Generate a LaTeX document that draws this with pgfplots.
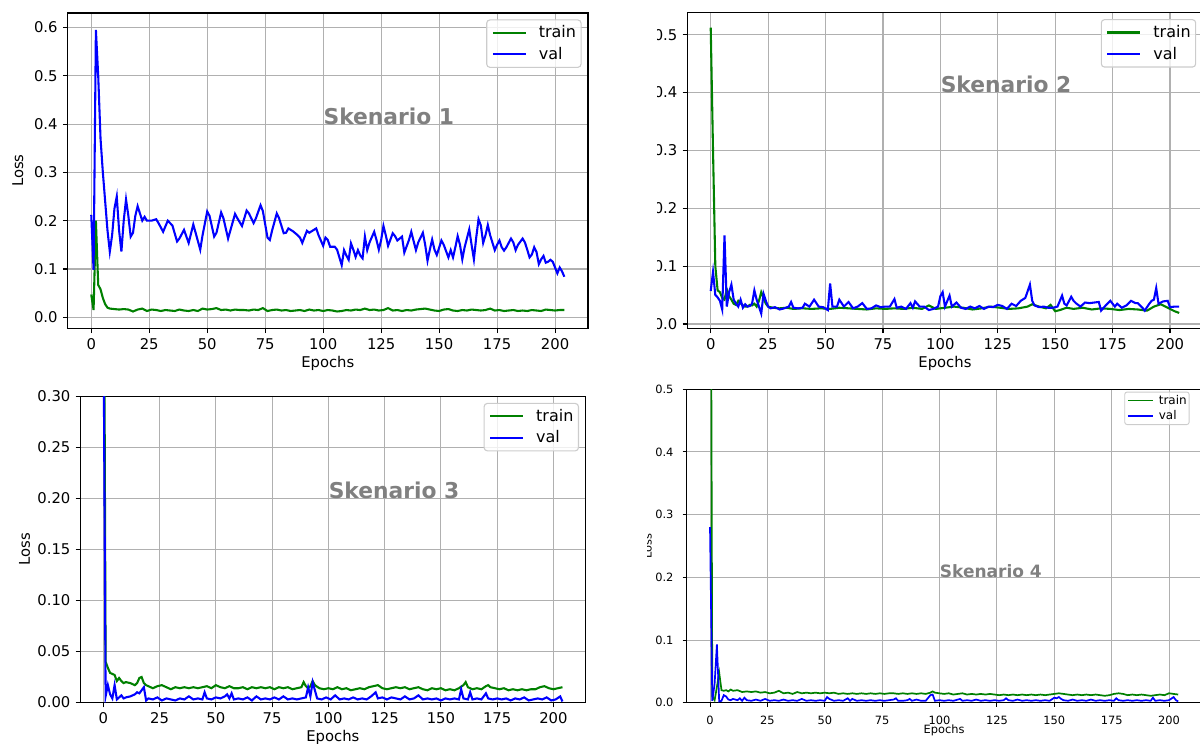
\documentclass[border=0pt]{standalone}
\usepackage{fontspec}
\setmainfont{DejaVu Sans}
\usepackage{pgfplots}
\pgfplotsset{compat=1.18}
\definecolor{mgreen}{HTML}{008000}
\definecolor{mblue}{HTML}{0000FF}
\definecolor{gridc}{HTML}{B0B0B0}
\definecolor{legc}{HTML}{CCCCCC}
\definecolor{skc}{HTML}{808080}
\newcommand{\fa}{\fontsize{7.4}{8.8}\selectfont}
\newcommand{\fl}{\fontsize{8}{9.6}\selectfont}
\newcommand{\fb}{\fontsize{5.7}{6.8}\selectfont}

\pgfplotsset{
  mpl/.style={
    scale only axis, anchor=south west,
    xmin=-10.2, xmax=214.2,
    xtick={0,25,...,200},
    grid=major,
    major grid style={line width=0.55pt, draw=gridc},
    axis line style={line width=0.55pt},
    tick align=outside, tick pos=left,
    major tick length=2.4pt,
    every tick/.style={black, line width=0.55pt},
    /pgf/number format/assume math mode=true,
    tick label style={font=\fa, inner sep=0pt},
    xticklabel style={yshift=-2.4pt},
    yticklabel style={xshift=-2.4pt, /pgf/number format/fixed, /pgf/number format/fixed zerofill, /pgf/number format/precision=1},
    label style={font=\fa, inner sep=0pt},
    xlabel={Epochs}, xlabel style={yshift=-3pt},
    legend cell align=left,
    legend image code/.code={\draw[##1, line width=1.04pt] (0pt,0pt) -- (16.5pt,0pt);},
    legend style={at={(1,1)}, anchor=north east, xshift=-3.2pt, yshift=-3.2pt,
      draw=legc, line width=0.55pt, rounded corners=1.6pt, fill=white,
      fill opacity=0.8, text opacity=1, font=\fl,
      inner xsep=2.5pt, inner ysep=2.95pt, row sep=3.8pt, column sep=6pt,
      nodes={inner sep=0pt, text height=6pt, text depth=1pt}},
  },
  p4/.style={
    major grid style={line width=0.45pt, draw=gridc},
    axis line style={line width=0.45pt},
    major tick length=2pt,
    every tick/.style={black, line width=0.45pt},
    tick label style={font=\fb}, label style={font=\fb},
    xticklabel style={yshift=-2pt}, yticklabel style={xshift=-2pt},
    xlabel style={yshift=3.2pt}, ylabel style={yshift=1.6pt},
    legend image code/.code={\draw[##1, line width=0.85pt] (0pt,0pt) -- (12.5pt,0pt);},
    legend style={font=\fontsize{6}{7}\selectfont, xshift=-2.8pt, yshift=2pt,
      inner xsep=1.2pt, inner ysep=1.6pt, row sep=2.55pt, column sep=2.5pt,
      line width=0.45pt, rounded corners=1.2pt,
      nodes={inner sep=0pt, text height=4.5pt, text depth=0.75pt}},
  },
  tr/.style={mgreen, line width=1.04pt},
  vl/.style={mblue, line width=1.04pt},
}
\tikzset{sk/.style={anchor=base west, text=skc, font=\fontsize{10.9}{12}\selectfont\bfseries, inner sep=0pt}}

\begin{document}
\begin{tikzpicture}[x=1pt,y=1pt]
\useasboundingbox (0,0) rectangle (600,372);
\clip (0,0) rectangle (600,372);

% Skenario 1
\begin{axis}[mpl, at={(33.8pt,207.85pt)}, width=260.2pt, height=157.65pt,
  ymin=-0.0228, ymax=0.630, ytick={0,0.1,...,0.6}, ylabel={Loss},
  ylabel style={yshift=5.2pt}]
\addplot[tr] coordinates {(0,0.047)(1,0.015)(2,0.200)(3,0.067)(4,0.058)(5,0.040)(6,0.027)(7,0.020)(8,0.018)(10,0.017)(12,0.016)(14,0.017)(16,0.016)(18,0.012)(20,0.016)(22,0.018)(24,0.013)(26,0.016)(28,0.015)(30,0.013)(32,0.015)(34,0.014)(36,0.013)(38,0.016)(40,0.014)(42,0.013)(44,0.015)(46,0.013)(48,0.018)(50,0.016)(52,0.017)(54,0.019)(56,0.015)(58,0.016)(60,0.014)(62,0.016)(64,0.015)(66,0.015)(68,0.014)(70,0.016)(72,0.015)(74,0.019)(76,0.013)(78,0.015)(80,0.016)(82,0.014)(84,0.015)(86,0.013)(88,0.014)(90,0.015)(92,0.013)(94,0.016)(96,0.014)(98,0.015)(100,0.013)(102,0.015)(104,0.014)(106,0.012)(108,0.013)(110,0.015)(112,0.014)(114,0.016)(116,0.015)(118,0.018)(120,0.015)(122,0.016)(124,0.014)(126,0.015)(128,0.019)(130,0.014)(132,0.015)(134,0.013)(136,0.015)(138,0.014)(140,0.016)(142,0.017)(144,0.018)(146,0.016)(148,0.014)(150,0.013)(152,0.016)(154,0.017)(156,0.014)(158,0.013)(160,0.015)(162,0.014)(164,0.016)(166,0.015)(168,0.014)(170,0.015)(172,0.018)(174,0.014)(176,0.015)(178,0.013)(180,0.014)(182,0.015)(184,0.013)(186,0.014)(188,0.013)(190,0.015)(192,0.014)(194,0.013)(196,0.016)(198,0.015)(200,0.014)(202,0.015)(204,0.015)};
\addlegendentry{train}
\addplot[vl] coordinates {(0,0.212)(1,0.098)(2,0.595)(3,0.50)(4,0.37)(5,0.30)(6,0.24)(7,0.18)(8,0.136)(9,0.17)(10,0.225)(11,0.25)(12,0.18)(13,0.136)(14,0.20)(15,0.244)(16,0.21)(17,0.167)(18,0.175)(19,0.21)(20,0.23)(21,0.215)(22,0.20)(23,0.208)(24,0.20)(26,0.20)(28,0.203)(29,0.195)(31,0.177)(33,0.20)(35,0.19)(37,0.157)(38,0.163)(40,0.181)(42,0.154)(44,0.192)(45,0.175)(47,0.14)(48,0.17)(50,0.219)(51,0.21)(53,0.167)(54,0.175)(56,0.217)(57,0.205)(59,0.163)(60,0.18)(62,0.214)(63,0.205)(65,0.189)(67,0.221)(68,0.215)(70,0.195)(71,0.205)(73,0.232)(74,0.22)(76,0.165)(77,0.16)(78,0.18)(80,0.215)(81,0.205)(83,0.174)(84,0.175)(85,0.184)(87,0.178)(89,0.17)(90,0.165)(91,0.154)(93,0.179)(94,0.175)(95,0.178)(97,0.184)(98,0.17)(100,0.148)(101,0.165)(102,0.16)(103,0.146)(105,0.146)(106,0.14)(108,0.108)(109,0.139)(110,0.128)(111,0.119)(112,0.153)(113,0.14)(114,0.125)(115,0.139)(116,0.128)(117,0.122)(118,0.167)(119,0.139)(120,0.155)(122,0.177)(123,0.16)(124,0.14)(125,0.16)(126,0.189)(127,0.17)(128,0.148)(130,0.174)(131,0.168)(132,0.159)(134,0.167)(135,0.134)(137,0.16)(138,0.177)(140,0.139)(141,0.155)(143,0.175)(144,0.15)(145,0.117)(146,0.14)(147,0.161)(148,0.14)(149,0.129)(151,0.159)(152,0.15)(154,0.124)(155,0.139)(156,0.124)(157,0.145)(158,0.168)(159,0.15)(160,0.12)(161,0.145)(163,0.182)(164,0.15)(165,0.12)(166,0.165)(167,0.203)(168,0.19)(169,0.154)(170,0.17)(171,0.191)(172,0.17)(174,0.139)(175,0.15)(176,0.159)(177,0.145)(178,0.138)(179,0.145)(181,0.163)(182,0.155)(183,0.139)(184,0.15)(186,0.163)(187,0.155)(188,0.14)(189,0.124)(190,0.13)(191,0.145)(192,0.135)(193,0.11)(194,0.12)(195,0.127)(196,0.113)(197,0.115)(198,0.119)(199,0.115)(200,0.103)(201,0.091)(202,0.103)(203,0.095)(204,0.084)};
\addlegendentry{val}
\node[sk] at (axis cs:100,0.4) {Skenario 1};
\end{axis}

% Skenario 2
\begin{scope}
\clip (328.5,0) rectangle (600,372);
\begin{axis}[mpl, at={(343.65pt,207.85pt)}, width=257.65pt, height=157.8pt,
  ymin=-0.0075, ymax=0.538, ytick={0,0.1,...,0.5}]
\addplot[tr] coordinates {(0,0.512)(1,0.30)(2,0.10)(3,0.058)(4,0.055)(5,0.045)(6,0.042)(7,0.060)(8,0.048)(9,0.042)(10,0.035)(11,0.033)(12,0.040)(13,0.036)(14,0.032)(15,0.030)(16,0.030)(17,0.033)(18,0.032)(19,0.035)(20,0.030)(21,0.040)(22,0.055)(23,0.045)(24,0.035)(25,0.030)(27,0.028)(30,0.027)(33,0.028)(36,0.026)(40,0.027)(44,0.026)(48,0.027)(52,0.026)(56,0.028)(60,0.027)(64,0.026)(68,0.025)(72,0.027)(76,0.026)(80,0.027)(84,0.026)(88,0.028)(92,0.026)(95,0.032)(98,0.026)(102,0.028)(106,0.030)(110,0.028)(114,0.025)(118,0.027)(122,0.030)(126,0.028)(130,0.026)(134,0.027)(138,0.030)(140,0.034)(143,0.030)(146,0.027)(148,0.033)(150,0.022)(152,0.024)(155,0.028)(158,0.026)(162,0.028)(166,0.025)(170,0.027)(174,0.026)(178,0.024)(182,0.026)(186,0.025)(190,0.023)(193,0.030)(196,0.034)(199,0.028)(202,0.022)(204,0.019)};
\addlegendentry{train}
\addplot[vl] coordinates {(0,0.057)(1,0.090)(2,0.050)(3,0.046)(4,0.040)(5,0.025)(6,0.153)(7,0.030)(8,0.055)(9,0.068)(10,0.042)(11,0.035)(12,0.030)(13,0.042)(14,0.028)(15,0.034)(16,0.030)(17,0.031)(18,0.035)(19,0.058)(20,0.042)(21,0.030)(22,0.018)(23,0.052)(24,0.040)(25,0.030)(26,0.027)(28,0.029)(30,0.025)(32,0.027)(34,0.030)(35,0.038)(36,0.028)(38,0.027)(40,0.028)(41,0.035)(43,0.030)(45,0.042)(47,0.030)(49,0.029)(51,0.024)(52,0.070)(53,0.030)(55,0.030)(56,0.042)(58,0.030)(60,0.038)(62,0.027)(64,0.030)(66,0.036)(68,0.026)(70,0.027)(72,0.032)(74,0.029)(76,0.030)(78,0.030)(80,0.043)(81,0.028)(83,0.030)(85,0.026)(87,0.036)(88,0.028)(89,0.039)(91,0.030)(93,0.030)(95,0.024)(97,0.026)(99,0.030)(100,0.048)(101,0.055)(102,0.030)(104,0.049)(105,0.030)(107,0.037)(109,0.028)(111,0.026)(113,0.030)(115,0.027)(117,0.031)(119,0.026)(121,0.030)(123,0.029)(125,0.033)(127,0.031)(129,0.026)(131,0.035)(133,0.031)(135,0.040)(137,0.045)(139,0.068)(140,0.040)(141,0.032)(143,0.029)(145,0.030)(147,0.028)(149,0.028)(151,0.030)(153,0.049)(154,0.035)(155,0.032)(157,0.047)(158,0.040)(159,0.036)(161,0.030)(163,0.037)(165,0.036)(167,0.037)(169,0.038)(170,0.023)(172,0.032)(174,0.040)(176,0.030)(177,0.035)(179,0.028)(181,0.032)(183,0.040)(185,0.036)(186,0.036)(188,0.028)(189,0.023)(191,0.035)(192,0.040)(193,0.042)(194,0.062)(195,0.035)(197,0.039)(199,0.040)(200,0.029)(202,0.030)(204,0.030)};
\addlegendentry{val}
\node[sk] at (axis cs:100,0.4) {Skenario 2};
\end{axis}
\end{scope}

% Skenario 3
\begin{axis}[mpl, at={(40.2pt,20.75pt)}, width=252.5pt, height=153pt,
  ymin=0, ymax=0.3, ytick={0,0.05,...,0.3}, ylabel={Loss},
  ylabel style={yshift=3.5pt},
  yticklabel style={/pgf/number format/precision=2}]
\addplot[tr] coordinates {(0,0.60)(1,0.040)(2,0.034)(3,0.029)(4,0.028)(5,0.027)(6,0.021)(7,0.024)(8,0.021)(9,0.019)(10,0.020)(12,0.019)(14,0.017)(15,0.019)(16,0.024)(17,0.025)(18,0.019)(19,0.017)(20,0.016)(22,0.014)(24,0.016)(26,0.017)(28,0.015)(30,0.013)(32,0.015)(34,0.014)(36,0.015)(38,0.014)(40,0.015)(42,0.014)(44,0.015)(46,0.016)(48,0.014)(50,0.017)(52,0.015)(54,0.014)(56,0.016)(58,0.014)(60,0.014)(62,0.015)(64,0.013)(66,0.015)(68,0.014)(70,0.015)(72,0.014)(74,0.015)(76,0.013)(78,0.015)(80,0.014)(82,0.015)(84,0.013)(86,0.014)(88,0.015)(89,0.020)(90,0.016)(91,0.014)(92,0.016)(93,0.021)(94,0.017)(96,0.014)(98,0.013)(100,0.014)(102,0.013)(104,0.015)(106,0.013)(108,0.014)(110,0.012)(112,0.013)(114,0.014)(116,0.013)(118,0.015)(120,0.016)(122,0.017)(124,0.014)(126,0.013)(128,0.014)(130,0.015)(132,0.014)(134,0.015)(136,0.013)(138,0.014)(140,0.015)(142,0.013)(144,0.012)(146,0.014)(148,0.013)(150,0.014)(152,0.012)(154,0.013)(156,0.012)(158,0.014)(160,0.017)(161,0.020)(162,0.015)(164,0.013)(166,0.014)(168,0.013)(170,0.016)(171,0.017)(172,0.015)(174,0.014)(176,0.013)(178,0.014)(180,0.012)(182,0.013)(184,0.012)(186,0.013)(188,0.012)(190,0.013)(192,0.013)(194,0.015)(196,0.016)(198,0.014)(200,0.013)(202,0.014)(204,0.015)};
\addlegendentry{train}
\addplot[vl] coordinates {(0,0.40)(1,0.006)(2,0.017)(3,0.008)(4,0.004)(5,0.017)(6,0.003)(7,0.005)(8,0.007)(9,0.004)(10,0.005)(12,0.006)(14,0.008)(15,0.010)(16,0.009)(17,0.012)(18,0.015)(19,0.002)(20,0.004)(22,0.003)(24,0.005)(26,0.002)(28,0.004)(30,0.003)(32,0.002)(34,0.004)(36,0.003)(38,0.006)(40,0.003)(42,0.004)(44,0.003)(45,0.010)(46,0.004)(48,0.003)(50,0.005)(52,0.004)(54,0.006)(55,0.008)(56,0.004)(57,0.009)(58,0.003)(60,0.004)(62,0.003)(64,0.005)(66,0.002)(68,0.006)(70,0.003)(72,0.004)(74,0.003)(76,0.005)(78,0.003)(80,0.006)(82,0.003)(84,0.004)(86,0.003)(88,0.004)(90,0.005)(91,0.015)(92,0.006)(93,0.020)(94,0.012)(95,0.004)(97,0.003)(99,0.005)(101,0.003)(103,0.007)(105,0.003)(107,0.004)(109,0.003)(111,0.005)(113,0.003)(115,0.004)(117,0.003)(119,0.006)(121,0.010)(122,0.004)(124,0.005)(126,0.003)(128,0.005)(130,0.004)(132,0.003)(134,0.006)(136,0.003)(138,0.004)(140,0.007)(142,0.003)(144,0.004)(146,0.003)(148,0.004)(150,0.002)(152,0.004)(154,0.003)(156,0.004)(158,0.003)(159,0.013)(160,0.004)(162,0.003)(163,0.010)(164,0.003)(166,0.004)(168,0.003)(170,0.009)(171,0.004)(173,0.003)(175,0.004)(177,0.003)(179,0.004)(181,0.002)(183,0.004)(185,0.003)(187,0.005)(189,0.002)(191,0.003)(193,0.004)(195,0.003)(197,0.005)(199,0.002)(201,0.003)(203,0.006)(204,0.001)};
\addlegendentry{val}
\node[sk] at (axis cs:100,0.2) {Skenario 3};
\end{axis}

% Skenario 4
\begin{scope}
\clip (323.5,0) rectangle (600,372);
\begin{axis}[mpl, p4, at={(343.3pt,20.65pt)}, width=257.5pt, height=156.75pt,
  ymin=0, ymax=0.5, ytick={0,0.1,...,0.5}, ylabel={Loss}]
\addplot[tr, line width=0.85pt] coordinates {(0,1.2)(1,0.010)(2,0.004)(3,0.025)(4,0.048)(5,0.020)(6,0.019)(7,0.020)(8,0.018)(9,0.021)(10,0.019)(12,0.020)(14,0.017)(16,0.018)(18,0.017)(20,0.018)(22,0.016)(24,0.017)(26,0.015)(28,0.016)(30,0.019)(32,0.015)(34,0.016)(36,0.014)(38,0.017)(40,0.015)(42,0.016)(44,0.015)(46,0.016)(48,0.015)(50,0.016)(52,0.015)(54,0.016)(56,0.014)(58,0.015)(60,0.014)(62,0.015)(64,0.014)(66,0.015)(68,0.014)(70,0.015)(72,0.014)(74,0.015)(76,0.014)(78,0.015)(80,0.015)(82,0.014)(84,0.015)(86,0.014)(88,0.015)(90,0.014)(92,0.015)(94,0.014)(96,0.016)(97,0.018)(98,0.016)(100,0.015)(102,0.014)(104,0.015)(106,0.013)(108,0.014)(110,0.015)(112,0.013)(114,0.014)(116,0.013)(118,0.014)(120,0.013)(122,0.014)(124,0.013)(126,0.012)(128,0.013)(130,0.012)(132,0.013)(134,0.012)(136,0.013)(138,0.012)(140,0.013)(142,0.012)(144,0.013)(146,0.012)(148,0.013)(150,0.014)(152,0.015)(154,0.014)(156,0.013)(158,0.012)(160,0.013)(162,0.012)(164,0.013)(166,0.012)(168,0.013)(170,0.012)(172,0.011)(174,0.012)(176,0.014)(178,0.015)(180,0.014)(182,0.012)(184,0.013)(186,0.012)(188,0.013)(190,0.012)(192,0.011)(194,0.012)(196,0.013)(198,0.012)(200,0.015)(202,0.014)(204,0.013)};
\addlegendentry{train}
\addplot[vl, line width=0.85pt] coordinates {(0,0.28)(1,0.003)(2,0.030)(3,0.093)(4,0.002)(5,0.003)(6,0.012)(7,0.010)(8,0.005)(9,0.004)(10,0.006)(12,0.004)(13,0.007)(14,0.003)(15,0.008)(16,0.004)(18,0.003)(20,0.005)(22,0.003)(24,0.006)(26,0.003)(28,0.004)(30,0.003)(32,0.005)(34,0.003)(36,0.004)(38,0.003)(40,0.006)(42,0.003)(44,0.004)(46,0.003)(48,0.004)(50,0.003)(51,0.009)(52,0.006)(54,0.003)(56,0.004)(58,0.003)(60,0.007)(61,0.003)(62,0.006)(64,0.003)(66,0.004)(68,0.003)(70,0.004)(72,0.003)(74,0.004)(76,0.003)(78,0.004)(80,0.005)(81,0.007)(82,0.003)(84,0.003)(86,0.004)(87,0.006)(88,0.003)(90,0.005)(92,0.003)(94,0.003)(96,0.012)(97,0.013)(98,0.003)(100,0.004)(102,0.003)(104,0.004)(106,0.003)(108,0.005)(109,0.006)(110,0.003)(112,0.004)(114,0.003)(116,0.005)(118,0.003)(120,0.004)(122,0.003)(124,0.004)(126,0.003)(128,0.004)(129,0.007)(130,0.004)(132,0.003)(134,0.005)(136,0.003)(138,0.004)(140,0.003)(142,0.004)(144,0.003)(146,0.004)(148,0.003)(150,0.008)(151,0.007)(152,0.009)(153,0.006)(154,0.004)(156,0.003)(158,0.005)(160,0.003)(162,0.004)(164,0.003)(166,0.005)(168,0.003)(170,0.004)(172,0.003)(174,0.004)(176,0.003)(177,0.007)(178,0.004)(180,0.003)(182,0.004)(184,0.003)(186,0.004)(188,0.003)(190,0.004)(192,0.003)(193,0.008)(194,0.003)(196,0.004)(198,0.003)(200,0.004)(202,0.009)(203,0.004)(204,0.002)};
\addlegendentry{val}
\node[sk, font=\fontsize{8.5}{10}\selectfont\bfseries] at (axis cs:100,0.2) {Skenario 4};
\end{axis}
\end{scope}
\end{tikzpicture}
\end{document}
